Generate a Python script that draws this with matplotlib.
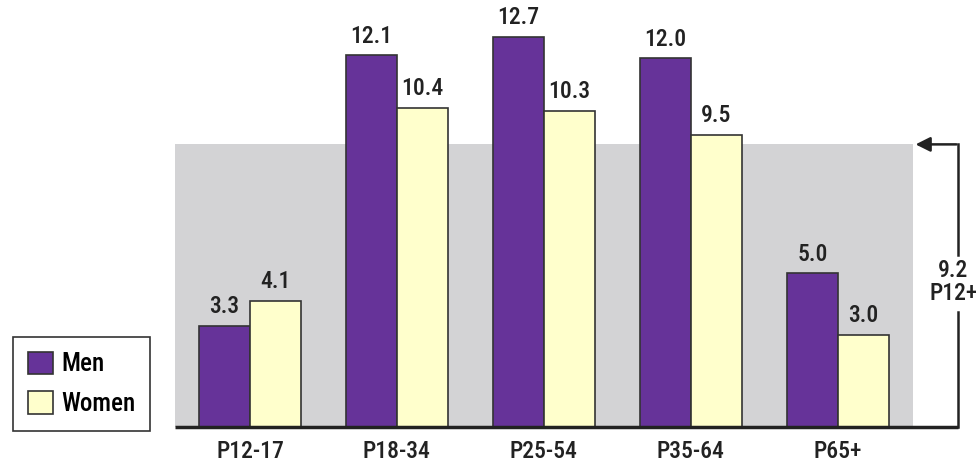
import matplotlib.pyplot as plt
import numpy as np

# data
groups = ["P12-17", "P18-34", "P25-54", "P35-64", "P65+"]
men = [3.3, 12.1, 12.7, 12.0, 5.0]
women = [4.1, 10.4, 10.3, 9.5, 3.0]
total_value = 9.2
total_label = "P12+"

purple = "#663399"
cream = "#FFFFCC"
grey = "#D3D3D5"
dark = "#222222"

plt.rcParams['font.family'] = ['Roboto Condensed', 'DejaVu Sans']

fig = plt.figure(figsize=(9.76, 4.66), dpi=100)
ax = fig.add_axes([175 / 976, 1 - 427 / 466, 1 - 175 / 976, 427 / 466])

x = np.arange(len(groups))
w = 0.345

# grey band for the overall value
ax.axhspan(0, total_value, xmin=0, xmax=(4.51 + 0.51) / (4.94 + 0.51), color=grey, zorder=0, lw=0)

b1 = ax.bar(x - w / 2, men, w, color=purple, edgecolor="#333333", linewidth=1.2, label="Men", zorder=2)
b2 = ax.bar(x + w / 2, women, w, color=cream, edgecolor="#333333", linewidth=1.2, label="Women", zorder=2)

for rects, vals in ((b1, men), (b2, women)):
    for r, v in zip(rects, vals):
        ax.text(r.get_x() + r.get_width() / 2, v + 0.25, f"{v:.1f}", ha="center", va="bottom",
                fontsize=17, fontweight="medium", color=dark)

for xi, g in zip(x, groups):
    ax.text(xi, -0.42, g, ha="center", va="top", fontsize=17, fontweight="medium", color=dark, clip_on=False)

# baseline and bracket arrow
xr = 4.82
ax.plot([-0.51, xr], [0, 0], color=dark, lw=2.5, solid_capstyle="butt", zorder=3, clip_on=False)
ax.plot([xr, xr], [0, 3.75], color=dark, lw=1.8, zorder=3, clip_on=False)
ax.plot([xr, xr], [5.6, total_value], color=dark, lw=1.8, zorder=3, clip_on=False)
ax.annotate("", xy=(4.51, total_value), xytext=(xr + 0.006, total_value),
            arrowprops=dict(arrowstyle="-|>", color=dark, lw=1.8, mutation_scale=22), zorder=3)
ax.text(xr - 0.035, 4.72, f"{total_value}\n{total_label}", ha="center", va="center",
        fontsize=17, fontweight="medium", color=dark, linespacing=1.0, clip_on=False)

ax.set_xlim(-0.51, 4.94)
ax.set_ylim(0, 13.9)
ax.axis("off")

leg = fig.legend(handles=[b1, b2], loc="lower left", bbox_to_anchor=(13 / 976, 1 - 431 / 466),
                 frameon=True, fancybox=False, edgecolor="#333333", framealpha=1,
                 prop=dict(size=18, weight="medium"), handlelength=1.0, handleheight=1.0,
                 handletextpad=0.32, labelspacing=0.6, borderpad=0.6, borderaxespad=0)
leg.get_frame().set_linewidth(1.2)

fig.savefig("out.png", dpi=100)
